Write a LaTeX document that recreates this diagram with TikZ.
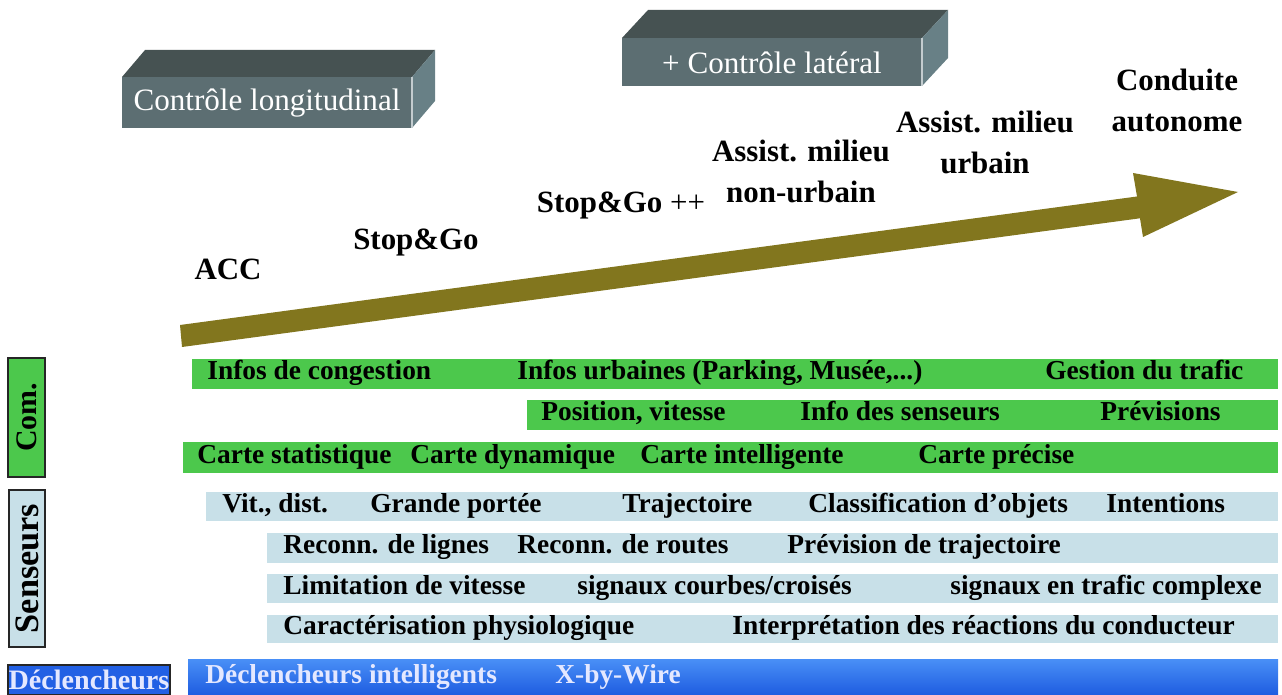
\documentclass[tikz,border=0pt]{standalone}
\usepackage{fontspec}
\setmainfont{Liberation Serif}
\usepackage{tikz}
\usepackage{xcolor}
\definecolor{comgreen}{RGB}{76,200,76}
\definecolor{senblue}{RGB}{200,224,232}
\definecolor{actblue}{RGB}{34,96,228}
\definecolor{acttop}{RGB}{72,142,246}
\definecolor{actbot}{RGB}{30,92,224}
\definecolor{boxfront}{RGB}{92,110,114}
\definecolor{boxtop}{RGB}{70,82,82}
\definecolor{boxside}{RGB}{104,128,134}
\definecolor{olivearrow}{RGB}{130,118,30}
\definecolor{paletext}{RGB}{228,232,255}

\begin{document}
\begin{tikzpicture}[x=0.02cm, y=-0.02cm,
  bartext/.style={anchor=west, inner sep=0pt, text height=0.68em, text depth=0pt,
                  font=\fontsize{15.6}{18}\selectfont\bfseries},
  stage/.style={align=center, inner sep=0pt, font=\fontsize{17.6}{23.4}\selectfont\bfseries},
  boxtext/.style={text=white, inner sep=0pt, font=\fontsize{17.7}{20}\selectfont},
  sidebox/.style={draw=black!85, line width=0.7pt, inner sep=0pt,
                  font=\fontsize{17}{20}\selectfont\bfseries}
]
\useasboundingbox (0,0) rectangle (1282,695);

\foreach \xa/\ya/\xb/\yb/\dx/\dy in {122/77/412/128/23/27, 622/38/922/86/26/28} {
  \fill[boxtop] (\xa,\ya) -- (\xa+\dx,\ya-\dy) -- (\xb+\dx,\ya-\dy) -- (\xb,\ya) -- cycle;
  \fill[boxside] (\xb,\ya) -- (\xb+\dx,\ya-\dy) -- (\xb+\dx,\yb-\dy) -- (\xb,\yb) -- cycle;
  \fill[boxfront] (\xa,\ya) rectangle (\xb,\yb);
  \draw[white!60!boxside, line width=0.6pt] (\xb,\ya) -- (\xb,\yb);
}
\node[boxtext] (longi) at (267,103) {Contrôle longitudinal};
\node[boxtext] (lateral) at (772,63) {+ Contrôle latéral};

\fill[olivearrow] (180,325) -- (1137,196.5) -- (1133,173) -- (1238,192)
  -- (1143,237) -- (1140,218.3) -- (182,347) -- cycle;

\node[stage, anchor=base] (acc) at (228,280) {ACC};
\node[stage, anchor=base] (stopgo) at (416,250) {Stop\&Go};
\node[stage, anchor=base] (stopgopp) at (621,213) {Stop\&Go \textmd{++}};
\node[stage, anchor=north] (nonurb) at (801,140) {Assist. milieu\\non-urbain};
\node[stage, anchor=north] (urb) at (985,111) {Assist. milieu\\urbain};
\node[stage, anchor=north] (auto) at (1177,69) {Conduite\\autonome};

\fill[comgreen] (192,359) rectangle (1278,389);
\fill[comgreen] (527,400) rectangle (1278,430);
\fill[comgreen] (183,442) rectangle (1278,473);
\fill[senblue] (206,492) rectangle (1278,521);
\fill[senblue] (267,533) rectangle (1278,563);
\fill[senblue] (267,574) rectangle (1278,603);
\fill[senblue] (267,615) rectangle (1278,643);
\shade[top color=acttop, bottom color=actbot] (188,660) rectangle (1278,695);

\node[bartext] (congest) at (207,374) {Infos de congestion};
\node[bartext] (urbaines) at (517,374) {Infos urbaines (Parking, Musée,...)};
\node[bartext] (trafic) at (1045,374) {Gestion du trafic};
\node[bartext] (position) at (541,415) {Position, vitesse};
\node[bartext] (infosens) at (800,415) {Info des senseurs};
\node[bartext] (previs) at (1100,415) {Prévisions};
\node[bartext] (cstat) at (197,457.5) {Carte statistique};
\node[bartext] (cdyn) at (410,457.5) {Carte dynamique};
\node[bartext] (cint) at (640,457.5) {Carte intelligente};
\node[bartext] (cprec) at (918,457.5) {Carte précise};

\node[bartext] (vitdist) at (222,506.5) {Vit., dist.};
\node[bartext] (portee) at (370,506.5) {Grande portée};
\node[bartext] (traj) at (622,506.5) {Trajectoire};
\node[bartext] (classif) at (808,506.5) {Classification d'objets};
\node[bartext] (intent) at (1106,506.5) {Intentions};
\node[bartext] (lignes) at (283,548) {Reconn. de lignes};
\node[bartext] (routes) at (517,548) {Reconn. de routes};
\node[bartext] (prevtraj) at (787,548) {Prévision de trajectoire};
\node[bartext] (limvit) at (283,588.5) {Limitation de vitesse};
\node[bartext] (courbes) at (577,588.5) {signaux courbes/croisés};
\node[bartext] (complexe) at (950,588.5) {signaux en trafic complexe};
\node[bartext] (physio) at (283,629) {Caractérisation physiologique};
\node[bartext] (reactions) at (732,629) {Interprétation des réactions du conducteur};

\node[bartext, text=paletext] (declint) at (205,677.5) {Déclencheurs intelligents};
\node[bartext, text=paletext] (xwire) at (555,677.5) {X-by-Wire};

\node[sidebox, fill=comgreen, rotate=90, minimum width=2.38cm, minimum height=0.74cm]
  (com) at (26.5,417.5) {Com.};
\node[sidebox, fill=senblue, rotate=90, minimum width=3.14cm, minimum height=0.72cm,
  font=\fontsize{19.5}{22}\selectfont\bfseries] (sens) at (27,568.5) {Senseurs};
\node[sidebox, fill=actblue, text=paletext, minimum width=3.24cm, minimum height=0.6cm,
  font=\fontsize{16}{18}\selectfont\bfseries] (decl) at (89,680) {Déclencheurs};

\end{tikzpicture}
\end{document}
